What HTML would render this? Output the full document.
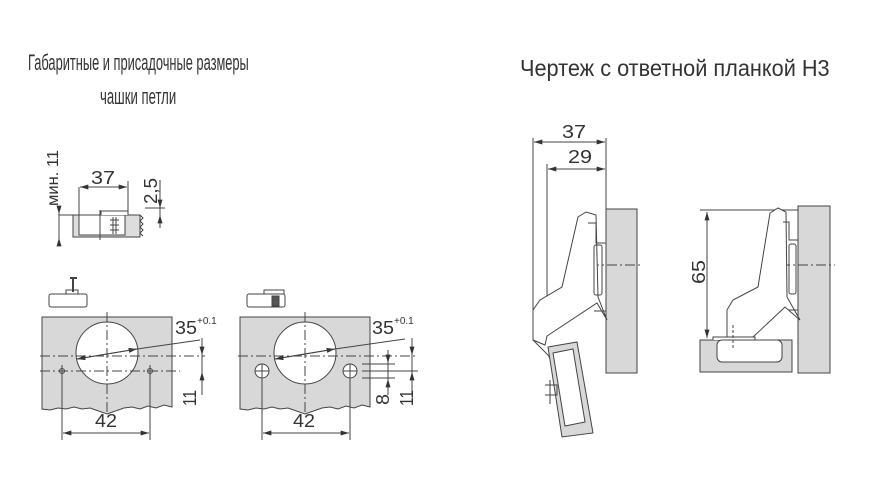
<!DOCTYPE html>
<html><head><meta charset="utf-8"><style>
html,body{margin:0;padding:0;background:#fff}
svg{display:block}
text{font-family:"Liberation Sans","DejaVu Sans",sans-serif;fill:#333}
</style></head><body>
<svg width="875" height="500" viewBox="0 0 875 500" xmlns="http://www.w3.org/2000/svg">
<defs>
<marker id="a" viewBox="0 0 10 6" refX="10" refY="3" markerWidth="9" markerHeight="5" orient="auto-start-reverse" markerUnits="userSpaceOnUse"><path d="M0,0L10,3L0,6z" fill="#333"/></marker>
</defs>
<!-- titles -->
<text transform="translate(28,70) scale(0.6,1)" font-size="22" textLength="368" lengthAdjust="spacingAndGlyphs">Габаритные и присадочные размеры</text>
<text transform="translate(100,104) scale(0.6,1)" font-size="22" textLength="127" lengthAdjust="spacingAndGlyphs">чашки петли</text>
<text transform="translate(520,76) scale(0.8,1)" font-size="23" textLength="387" lengthAdjust="spacingAndGlyphs">Чертеж с ответной планкой H3</text>

<g stroke="#444" stroke-width="1" fill="none">
<!-- small top part -->
<rect x="73" y="215" width="67" height="22" fill="#ddd"/>
<rect x="79" y="215" width="46" height="20" fill="#fff"/>
<line x1="100" y1="210" x2="100" y2="240"/>
<path d="M101 215V211H128V215" fill="#fff"/>
<path d="M110 220H119M110 225H119M110 230H119M113 217V234M116 217V234"/>
<path d="M140 215l3 3-3 3 3 3-3 3 3 3-3 3 3 3"/>
<line x1="79" y1="187" x2="79" y2="215"/><line x1="128" y1="181" x2="128" y2="211"/>
<line x1="80" y1="187" x2="127" y2="187" marker-start="url(#a)" marker-end="url(#a)"/>
<line x1="59" y1="215" x2="73" y2="215"/>
<line x1="59" y1="209" x2="59" y2="243"/>
<line x1="59" y1="208" x2="59" y2="214" marker-end="url(#a)"/>
<line x1="59" y1="243" x2="59" y2="238" marker-end="url(#a)"/>
<line x1="160" y1="180" x2="160" y2="228"/>
<line x1="145" y1="208" x2="165" y2="208"/>
<line x1="160" y1="200" x2="160" y2="208" marker-end="url(#a)"/>
<line x1="160" y1="222" x2="160" y2="215" marker-end="url(#a)"/>

<!-- panel 1 -->
<rect x="49" y="294" width="38" height="13" rx="2" fill="#fff"/>
<path d="M66 294v-4h12v4"/>
<line x1="73" y1="278" x2="73" y2="292" stroke-width="2"/>
<line x1="70" y1="278" x2="77" y2="278" stroke-width="2"/>
<path d="M42 317H172V407l-8-2-8 3-8-2-8 3-8-2-8 1-17 6-17-6-8 1-8-2-8 2-8-1-8 2-8-1Z" fill="#d8d8d8"/>
<circle cx="107" cy="353" r="31" fill="#fff"/>
<line x1="107" y1="312" x2="107" y2="412" stroke-dasharray="10 3 2 3"/>
<line x1="40" y1="356" x2="205" y2="356" stroke-dasharray="10 3 2 3"/>
<line x1="40" y1="371" x2="180" y2="371" stroke-dasharray="10 3 2 3"/>
<circle cx="62" cy="371" r="2.5"/><circle cx="150" cy="371" r="2.5"/>
<line x1="62" y1="365" x2="62" y2="440"/><line x1="150" y1="365" x2="150" y2="440"/>
<line x1="63" y1="433" x2="149" y2="433" marker-start="url(#a)" marker-end="url(#a)"/>
<line x1="77" y1="359" x2="137" y2="349" marker-end="url(#a)"/>
<line x1="137" y1="349" x2="77" y2="359" marker-end="url(#a)"/>
<line x1="137" y1="349" x2="200" y2="340"/>
<line x1="202" y1="338" x2="202" y2="395"/>
<line x1="202" y1="343" x2="202" y2="355" marker-end="url(#a)"/>
<line x1="202" y1="383" x2="202" y2="372" marker-end="url(#a)"/>

<!-- panel 2 -->
<rect x="247" y="294" width="38" height="13" rx="2" fill="#fff"/>
<path d="M264 294v-4h20v4"/>
<rect x="272" y="296" width="7" height="10" fill="#555"/>
<path d="M240 317H370V407l-8-2-8 3-8-2-8 3-8-2-8 1-17 6-17-6-8 1-8-2-8 2-8-1-8 2-8-1Z" fill="#d8d8d8"/>
<circle cx="305" cy="353" r="31" fill="#fff"/>
<line x1="305" y1="312" x2="305" y2="412" stroke-dasharray="10 3 2 3"/>
<line x1="238" y1="356" x2="418" y2="356" stroke-dasharray="10 3 2 3"/>
<circle cx="262" cy="371" r="7" fill="#fff"/><circle cx="350" cy="371" r="7" fill="#fff"/>
<path d="M255 371h14M262 364v14M343 371h14M350 364v14"/>
<line x1="362" y1="364" x2="395" y2="364"/><line x1="362" y1="378" x2="395" y2="378"/>
<line x1="362" y1="371" x2="418" y2="371"/>
<line x1="262" y1="378" x2="262" y2="440"/><line x1="350" y1="378" x2="350" y2="440"/>
<line x1="263" y1="433" x2="349" y2="433" marker-start="url(#a)" marker-end="url(#a)"/>
<line x1="275" y1="359" x2="335" y2="349" marker-end="url(#a)"/>
<line x1="335" y1="349" x2="275" y2="359" marker-end="url(#a)"/>
<line x1="335" y1="349" x2="405" y2="339"/>
<line x1="388" y1="350" x2="388" y2="395"/>
<line x1="388" y1="350" x2="388" y2="363" marker-end="url(#a)"/>
<line x1="388" y1="392" x2="388" y2="379" marker-end="url(#a)"/>
<line x1="412" y1="338" x2="412" y2="395"/>
<line x1="412" y1="343" x2="412" y2="355" marker-end="url(#a)"/>
<line x1="412" y1="383" x2="412" y2="372" marker-end="url(#a)"/>

<!-- right drawing 1 -->
<rect x="606" y="209" width="31" height="164" fill="#d8d8d8"/>
<line x1="589" y1="265" x2="642" y2="265" stroke-dasharray="10 3 2 3"/>
<line x1="533" y1="138" x2="533" y2="310"/>
<line x1="547" y1="164" x2="547" y2="336"/>
<line x1="606" y1="138" x2="606" y2="209"/>
<line x1="534" y1="142" x2="605" y2="142" marker-start="url(#a)" marker-end="url(#a)"/>
<line x1="548" y1="169" x2="605" y2="169" marker-start="url(#a)" marker-end="url(#a)"/>
<path d="M578 217L586 212L596 215L598 297L607 320L597 303L547 336L545 345L533 340L533 310L540 300L562 287Z" fill="#fff"/>
<path d="M588 223h8v20h10v68h-12"/>
<rect x="594" y="245" width="8" height="50" rx="2"/>
<path d="M533 340l15 15 3 5"/>
<path d="M548 347L577 342L593 433L562 437Z" fill="#d8d8d8"/>
<path d="M553 353L573 349L585 422L565 426Z" fill="#fff"/>
<path d="M545 385h12v10h-12M550 380v24"/>

<!-- right drawing 2 -->
<rect x="798" y="206" width="32" height="167" fill="#d8d8d8"/>
<line x1="780" y1="265" x2="835" y2="265" stroke-dasharray="10 3 2 3"/>
<line x1="700" y1="210" x2="798" y2="210"/>
<line x1="707" y1="212" x2="707" y2="338" marker-start="url(#a)" marker-end="url(#a)"/>
<path d="M770 213L778 208L786 212L787 297L800 320L785 307L753 337L727 340L727 310L733 300L758 287Z" fill="#fff"/>
<path d="M783 222h6v18h9v70h-10"/>
<rect x="789" y="244" width="7" height="50" rx="2"/>
<rect x="700" y="340" width="92" height="32" fill="#d8d8d8"/>
<path d="M713 340v-3h42v3" fill="#fff"/>
<rect x="717" y="340" width="65" height="22" rx="5" fill="#fff"/>
<line x1="733" y1="325" x2="733" y2="350" stroke-dasharray="3 2"/>
</g>

<!-- labels -->
<g font-size="18">
<text x="91" y="184" textLength="24" lengthAdjust="spacingAndGlyphs">37</text>
<text transform="translate(157,204) rotate(-90)" textLength="26" lengthAdjust="spacingAndGlyphs">2,5</text>
<text transform="translate(58,206) rotate(-90)" font-size="16" textLength="56" lengthAdjust="spacingAndGlyphs">мин. 11</text>
<text x="175" y="334" textLength="22" lengthAdjust="spacingAndGlyphs">35</text>
<text x="197" y="324" font-size="10">+0.1</text>
<text x="95" y="427" textLength="22" lengthAdjust="spacingAndGlyphs">42</text>
<text transform="translate(196,406) rotate(-90)" textLength="16" lengthAdjust="spacingAndGlyphs">11</text>
<text x="372" y="334" textLength="22" lengthAdjust="spacingAndGlyphs">35</text>
<text x="394" y="324" font-size="10">+0.1</text>
<text x="293" y="427" textLength="22" lengthAdjust="spacingAndGlyphs">42</text>
<text transform="translate(389,405) rotate(-90)" textLength="11" lengthAdjust="spacingAndGlyphs">8</text>
<text transform="translate(413,406) rotate(-90)" textLength="16" lengthAdjust="spacingAndGlyphs">11</text>
<text x="562" y="138" textLength="24" lengthAdjust="spacingAndGlyphs">37</text>
<text x="568" y="163" textLength="24" lengthAdjust="spacingAndGlyphs">29</text>
<text transform="translate(705,284) rotate(-90)" textLength="24" lengthAdjust="spacingAndGlyphs">65</text>
</g>
</svg>
</body></html>
